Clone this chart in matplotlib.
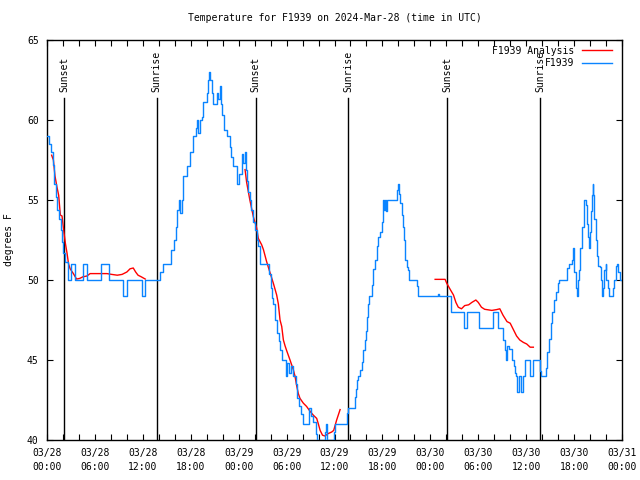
import matplotlib
matplotlib.use("Agg")
import matplotlib.pyplot as plt
import numpy as np

# hours since 2024-03-28 00:00 UTC
obs_hours = [0.0, 0.3, 0.5, 0.7, 0.85, 1.1, 1.3, 1.5, 1.7, 1.9, 2.05, 2.2, 2.67, 2.96, 3.45,
             4.47, 4.97, 6.72, 7.76, 9.47, 10.06, 11.85, 12.27, 14.15, 14.5, 15.49, 15.9, 16.1,
             16.24, 16.5, 16.65, 16.86, 17.07, 17.28, 17.57, 17.9, 18.32, 18.6, 18.74, 18.95,
             19.16, 19.4, 19.57, 20.0, 20.2, 20.33, 20.45, 20.62, 20.83, 21.25, 21.45, 21.66,
             21.8, 21.95, 22.16, 22.5, 22.9, 23.1, 23.25, 23.83, 24.0, 24.38, 24.58, 24.79, 24.9,
             25.0, 25.2, 25.4, 25.6, 25.8, 26.0, 26.25, 26.46, 26.67, 27.84, 28.0, 28.13, 28.34,
             28.6, 28.76, 29.0, 29.18, 29.39, 29.9, 30.1, 30.35, 30.5, 30.84, 31.2, 31.35, 31.6,
             31.8, 32.0, 32.82, 33.1, 33.35, 33.7, 33.85, 34.8, 34.9, 35.0, 35.9, 36.1, 37.6,
             37.73, 38.57, 38.7, 38.85, 38.98, 39.2, 39.4, 39.6, 39.82, 39.95, 40.03, 40.2, 40.36,
             40.66, 40.86, 41.07, 41.28, 41.5, 41.7, 41.9, 42.11, 42.22, 42.32, 42.45, 42.61,
             43.87, 43.95, 44.05, 44.2, 44.41, 44.62, 44.75, 44.83, 45.04, 45.2, 45.37, 46.37,
             46.5, 48.9, 49.1, 50.59, 52.22, 52.63, 54.13, 55.88, 56.5, 57.14, 57.35, 57.47, 57.6,
             57.9, 58.19, 58.5, 58.6, 58.75, 58.9, 59.15, 59.3, 59.55, 59.86, 60.5, 60.8, 61.1,
             61.73, 61.9, 62.48, 62.65, 62.9, 63.07, 63.25, 63.5, 63.75, 63.95, 64.1, 65.15, 65.35,
             65.7, 65.83, 65.95, 66.05, 66.2, 66.33, 66.45, 66.6, 66.8, 67.05, 67.2, 67.3, 67.5,
             67.6, 67.78, 67.9, 68.0, 68.12, 68.24, 68.33, 68.41, 68.53, 68.7, 68.85, 68.95,
             69.25, 69.4, 69.5, 69.6, 69.75, 69.95, 70.05, 70.28, 70.4, 70.9, 71.04, 71.25,
             71.41, 71.54, 71.75, 72.0]
obs_temp = [59, 58.5, 58, 57.2, 56, 55.2, 54.4, 53.8, 53.1, 52.4, 51.7, 51.1, 50, 51, 50,
            51, 50, 51, 50, 49, 50, 49, 50, 50.5, 51, 51.9, 52.5, 53.3,
            54.4, 55, 54.2, 55, 56.5, 56.5, 57.1, 58, 59, 59.5, 60, 59.2,
            60, 60.2, 61.1, 61.7, 62.5, 63, 62.5, 61.7, 61, 61.7, 61.3, 62.1,
            61, 60.3, 59.4, 59, 58.3, 57.7, 57.1, 56, 56.6, 57.9, 57.3, 58, 56.9,
            56.2, 55.5, 55, 54.4, 53.6, 53.1, 52.5, 52.1, 51, 50.4, 49.5, 48.9, 48.5,
            47.5, 46.7, 46.2, 45.6, 45, 44, 44.8, 44.2, 44.6, 44, 43.5, 42.6, 42.1,
            41.6, 41, 42, 41.5, 41.1, 40.4, 40, 40.5, 41, 40, 40.5, 41, 41.7,
            42, 42.7, 43.2, 43.75, 44, 44.4, 44.9, 45.6, 46.25, 46.8, 47.7, 48.5, 49,
            49.7, 50.7, 51.25, 52.1, 52.7, 53, 53.6, 55, 54.4, 55, 54.3, 55,
            55.6, 56, 55.4, 54.8, 54.06, 53.3, 52.5, 51.25, 50.8, 50.6, 50, 49.6,
            49, 49.1, 49, 48, 47, 48, 47, 48, 47, 46.25, 45.6, 45, 45.9,
            45.7, 45, 44.6, 44.2, 44, 43, 44, 43, 44, 45, 44, 45, 45,
            44.3, 44, 44.5, 45.5, 46.3, 47.3, 48, 48.75, 49.25, 49.8, 50, 50.75, 51,
            51.25, 52, 51.7, 50.5, 49.5, 49, 50, 50.6, 52, 53.3, 54.7, 55, 54.7,
            53.5, 52.7, 52, 53, 54.3, 55.3, 56, 55.3, 53.8, 52.5, 51.5, 50.9,
            50.8, 50, 49, 49.5, 50.6, 51, 50, 49.5, 49, 49.5, 50, 50.9,
            51, 50.5, 50, 50]

# analysis series, NaN marks the gaps between runs
ana_hours = [0.58, 0.8, 1.0, 1.25, 1.46, 1.67, 1.88, 2.09, 2.3, 2.5, 2.7, 2.9, 3.3, 3.7, 4.1,
             4.5, 5.0, 5.4, 5.8, 6.7, 7.5, 8.1, 8.8, 9.4, 10.0, 10.4, 10.8, 11.1, 11.4, 11.8,
             12.3, 18.0,
             24.8, 25.0, 25.4, 25.84, 26.25, 26.46, 26.67, 26.88, 27.1, 27.5, 27.9, 28.34, 28.76,
             28.97, 29.18, 29.39, 29.6, 29.8, 30.0, 30.43, 30.84, 31.05, 31.26, 31.47, 31.68,
             32.1, 32.5, 32.93, 33.35, 33.77, 33.98, 34.2, 34.5, 34.8, 35.2, 35.65, 35.9, 36.27,
             36.7, 42.0,
             48.6, 49.85, 50.05, 50.5, 50.9, 51.2, 51.5, 51.9, 52.3, 52.8, 53.2, 53.7, 54.0,
             54.4, 54.8, 55.7, 56.3, 56.7, 57.1, 57.6, 58.0, 58.4, 58.8, 59.2, 59.65, 60.07,
             60.5, 60.9]
ana_temp = [57.8, 57.5, 56.5, 55.8, 55.3, 54.06, 54.0, 53.1, 52.3, 51.7, 51.0, 50.7, 50.4, 50.06, 50.1,
            50.2, 50.25, 50.4, 50.4, 50.4, 50.4, 50.35, 50.3, 50.35, 50.5, 50.7, 50.75, 50.5, 50.3, 50.2,
            50.06, np.nan,
            56.9, 56.1, 55.0, 53.95, 53.25, 52.6, 52.4, 52.2, 51.9, 51.15, 50.5, 49.8, 49.06,
            48.5, 47.5, 47.1, 46.25, 45.9, 45.6, 45.0, 44.4, 44.0, 43.4, 42.9, 42.6,
            42.3, 42.1, 41.8, 41.55, 41.35, 41.0, 40.6, 40.3, 40.25, 40.4, 40.5, 40.6, 41.25,
            41.9, np.nan,
            50.04, 50.04, 49.8, 49.4, 49.06, 48.6, 48.3, 48.2, 48.4, 48.45, 48.6, 48.75, 48.6,
            48.3, 48.17, 48.1, 48.15, 48.2, 47.8, 47.4, 47.3, 46.9, 46.5, 46.25, 46.1, 46.0,
            45.8, 45.8]

sun_hours = [2.13, 13.75, 26.13, 37.75, 50.13, 61.75]
sun_names = ["Sunset", "Sunrise", "Sunset", "Sunrise", "Sunset", "Sunrise"]

tick_hours = list(range(0, 73, 6))
tick_labels = ["03/28\n00:00", "03/28\n06:00", "03/28\n12:00", "03/28\n18:00",
               "03/29\n00:00", "03/29\n06:00", "03/29\n12:00", "03/29\n18:00",
               "03/30\n00:00", "03/30\n06:00", "03/30\n12:00", "03/30\n18:00",
               "03/31\n00:00"]

plt.rcParams['font.family'] = ['DejaVu Sans Mono']
plt.rcParams['font.size'] = 7

fig = plt.figure(figsize=(6.4, 4.8), dpi=100)
ax = fig.add_axes([47 / 640, 40 / 480, 575 / 640, 400 / 480])

for h, name in zip(sun_hours, sun_names):
    ax.plot([h, h], [40, 61.4], color='black', lw=1, zorder=1)
    ax.text(h, 61.75, name, rotation=90, ha='center', va='bottom', fontsize=7)

ax.plot(ana_hours, ana_temp, color='#ff0000', lw=1, label='F1939 Analysis', zorder=2)
ax.step(obs_hours, obs_temp, where='post', color='#0a84ff', lw=1, label='F1939', zorder=3)

ax.set_xlim(0, 72)
ax.set_ylim(40, 65)
ax.set_xticks(tick_hours)
ax.set_xticklabels(tick_labels, linespacing=1.45)
ax.set_xticks(range(0, 73, 2), minor=True)
ax.set_yticks(range(40, 66, 5))
ax.tick_params(which='both', direction='in', top=True, right=True, length=4, width=0.8)
ax.tick_params(axis='x', pad=6)
ax.tick_params(axis='y', pad=6)
for s in ax.spines.values():
    s.set_linewidth(1)

ax.set_title('Temperature for F1939 on 2024-Mar-28 (time in UTC)', fontsize=7, pad=14)
ax.set_ylabel('degrees F', fontsize=7, labelpad=9)

ax.legend(loc='upper right', bbox_to_anchor=(0.997, 1.008), frameon=False, markerfirst=False,
          handlelength=3, handletextpad=0.8, labelspacing=0.25, fontsize=7)

fig.savefig('out.png', dpi=100)
